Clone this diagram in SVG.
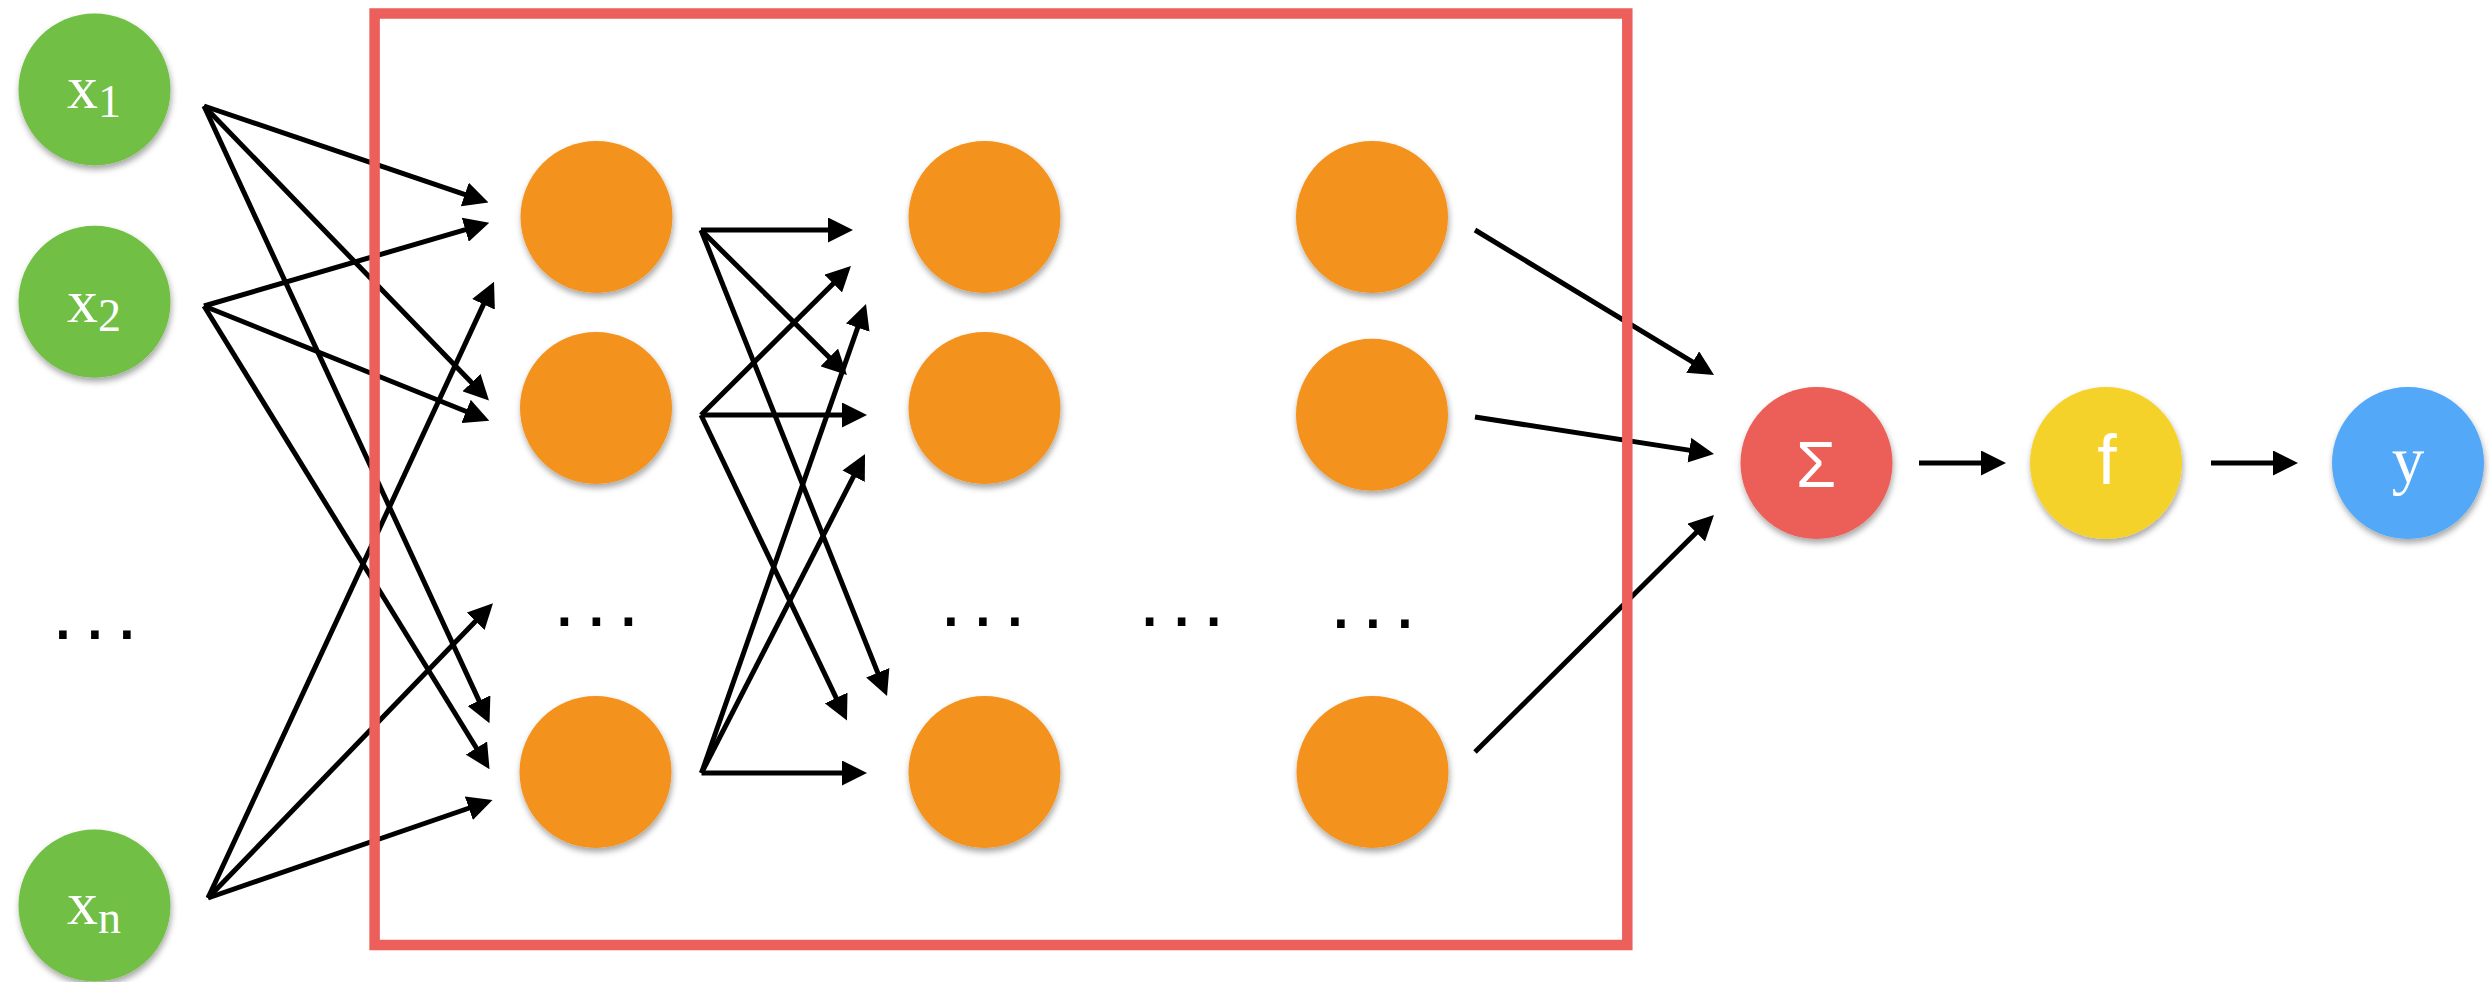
<svg xmlns="http://www.w3.org/2000/svg" width="2490" height="982" viewBox="0 0 2490 982">
  <defs>
    <style>
      .node { filter: url(#shadow); }
      .in { fill: #71bf44; }
      .hid { fill: #f3921f; }
      .sum { fill: #ec5f58; }
      .act { fill: #f5d22a; }
      .out { fill: #53a8f7; }
      .serif { font-family: "Liberation Serif", "Times New Roman", serif; fill: #ffffff; }
      .sans { font-family: "Liberation Sans", Arial, sans-serif; fill: #ffffff; }
      .dots { font-family: "Liberation Sans", Arial, sans-serif; font-size: 80px; letter-spacing: 9.8px; fill: #000000; }
      .edge { stroke: #000000; stroke-width: 5; fill: none; marker-end: url(#head); }
      .frame { fill: none; stroke: #ec5f5a; stroke-width: 10.5; }
    </style>
    <filter id="shadow" x="-20%" y="-20%" width="140%" height="150%">
      <feDropShadow dx="1" dy="4" stdDeviation="3" flood-color="#000000" flood-opacity="0.35"/>
    </filter>
    <marker id="head" markerUnits="userSpaceOnUse" viewBox="0 0 25 25" markerWidth="25" markerHeight="25" refX="19" refY="12.5" orient="auto">
      <path d="M0,0 L25,12.5 L0,25 Z" fill="#000000"/>
    </marker>
  </defs>

  <rect width="2490" height="982" fill="#ffffff"/>

  <!-- connectors -->
  <g id="connectors">
    <!-- inputs to first hidden layer -->
    <line class="edge" x1="204" y1="106" x2="482.8" y2="200.6"/>
    <line class="edge" x1="204" y1="106" x2="484.8" y2="396.2"/>
    <line class="edge" x1="204" y1="106" x2="487.0" y2="717.9"/>
    <line class="edge" x1="204" y1="306" x2="483.5" y2="224.4"/>
    <line class="edge" x1="204" y1="306" x2="483.7" y2="418.5"/>
    <line class="edge" x1="204" y1="306" x2="486.4" y2="764.2"/>
    <line class="edge" x1="208" y1="898" x2="491.5" y2="287.1"/>
    <line class="edge" x1="208" y1="898" x2="488.8" y2="607.6"/>
    <line class="edge" x1="208" y1="898" x2="486.8" y2="802.0"/>
    <!-- first hidden layer to second -->
    <line class="edge" x1="701" y1="230" x2="847" y2="230"/>
    <line class="edge" x1="701" y1="230" x2="842.7" y2="370.8"/>
    <line class="edge" x1="701" y1="230" x2="884.8" y2="690.4"/>
    <line class="edge" x1="701" y1="415" x2="846.7" y2="270.2"/>
    <line class="edge" x1="701" y1="415" x2="861" y2="415"/>
    <line class="edge" x1="701" y1="415" x2="844.4" y2="715.1"/>
    <line class="edge" x1="701.5" y1="773" x2="864.0" y2="309.7"/>
    <line class="edge" x1="701.5" y1="773" x2="862.3" y2="459.3"/>
    <line class="edge" x1="701.5" y1="773" x2="861" y2="773"/>
    <!-- last hidden layer to summation -->
    <line class="edge" x1="1475" y1="230" x2="1708.9" y2="371.9"/>
    <line class="edge" x1="1475" y1="417" x2="1708.1" y2="453.1"/>
    <line class="edge" x1="1475" y1="752" x2="1709.7" y2="519.2"/>
    <!-- summation to activation to output -->
    <line class="edge" x1="1919" y1="463" x2="2000" y2="463"/>
    <line class="edge" x1="2211" y1="463" x2="2292" y2="463"/>
  </g>

  <!-- hidden layers frame -->
  <g id="hidden-layers">
    <rect class="frame" x="374.6" y="13.5" width="1252.7" height="931.5"/>
  </g>

  <!-- inputs -->
  <g id="x1">
    <circle class="node in" cx="94.5" cy="89.5" r="76"/>
    <text class="serif" x="94" y="108" font-size="62" text-anchor="middle">x<tspan font-size="46" dy="9">1</tspan></text>
  </g>
  <g id="x2">
    <circle class="node in" cx="94.5" cy="301.7" r="76"/>
    <text class="serif" x="94" y="321.7" font-size="62" text-anchor="middle">x<tspan font-size="46" dy="9">2</tspan></text>
  </g>
  <g id="x-ellipsis">
    <text class="dots" x="51.7" y="639">...</text>
  </g>
  <g id="xn">
    <circle class="node in" cx="94.5" cy="905.5" r="76"/>
    <text class="serif" x="94" y="924" font-size="62" text-anchor="middle">x<tspan font-size="46" dy="9">n</tspan></text>
  </g>

  <!-- first hidden layer -->
  <g id="h1-1"><circle class="node hid" cx="596.5" cy="217" r="76"/></g>
  <g id="h1-2"><circle class="node hid" cx="596" cy="408" r="76"/></g>
  <g id="h1-ellipsis"><text class="dots" x="553.3" y="626">...</text></g>
  <g id="h1-n"><circle class="node hid" cx="595.5" cy="772" r="76"/></g>

  <!-- second hidden layer -->
  <g id="h2-1"><circle class="node hid" cx="984.5" cy="217" r="76"/></g>
  <g id="h2-2"><circle class="node hid" cx="984.5" cy="408" r="76"/></g>
  <g id="h2-ellipsis"><text class="dots" x="939.7" y="626">...</text></g>
  <g id="h2-n"><circle class="node hid" cx="984.5" cy="772" r="76"/></g>

  <!-- further layers -->
  <g id="layers-ellipsis"><text class="dots" x="1138.4" y="626">...</text></g>

  <!-- last hidden layer -->
  <g id="hk-1"><circle class="node hid" cx="1372" cy="217" r="76"/></g>
  <g id="hk-2"><circle class="node hid" cx="1372" cy="414.7" r="76"/></g>
  <g id="hk-ellipsis"><text class="dots" x="1329.7" y="628">...</text></g>
  <g id="hk-n"><circle class="node hid" cx="1372.5" cy="772" r="76"/></g>

  <!-- output stage -->
  <g id="sum">
    <circle class="node sum" cx="1816.5" cy="463" r="76"/>
    <text class="sans" x="1816" y="486.7" font-size="65" text-anchor="middle">Σ</text>
  </g>
  <g id="activation">
    <circle class="node act" cx="2106" cy="463" r="76"/>
    <text class="sans" x="2107" y="484.3" font-size="70" text-anchor="middle">f</text>
  </g>
  <g id="output">
    <circle class="node out" cx="2408" cy="463" r="76"/>
    <text class="serif" x="2408" y="481.6" font-size="65" text-anchor="middle">y</text>
  </g>
</svg>
